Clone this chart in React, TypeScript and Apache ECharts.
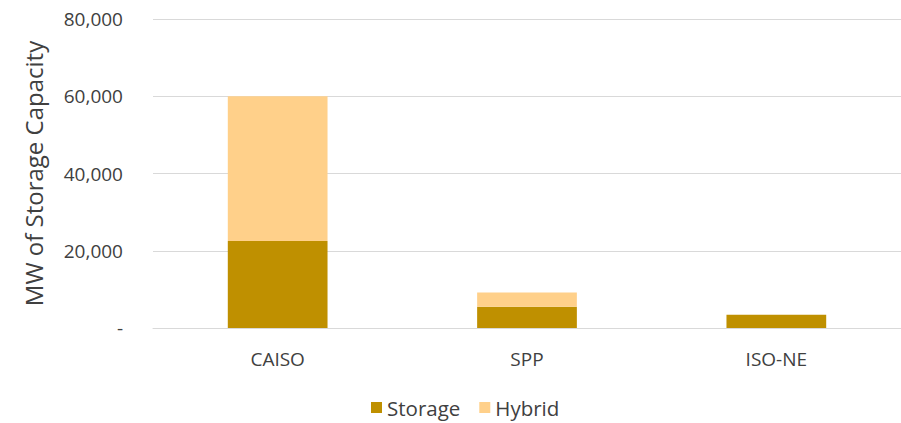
import React, { useEffect, useRef } from "react";
import * as echarts from "echarts";

const categories = ["CAISO", "SPP", "ISO-NE"];
const storageValues = [22500, 5500, 3400];
const hybridValues = [37500, 3700, 0];
const yTicks = [0, 20000, 40000, 60000, 80000];

export default function App() {
  const ref = useRef<HTMLDivElement>(null);
  useEffect(() => {
    const chart = echarts.init(ref.current!, null, { renderer: "svg" });
    const font = "'Open Sans', 'Noto Sans', sans-serif";
    const txt = "#404040";
    chart.setOption({
      animation: false,
      textStyle: { fontFamily: font },
      grid: { left: 153, top: 19, width: 756, height: 309 },
      legend: {
        bottom: 0,
        left: 366,
        itemWidth: 11,
        itemHeight: 11,
        itemGap: 19,
        icon: "rect",
        textStyle: { color: txt, fontSize: 20.5, fontFamily: font },
        data: ["Storage", "Hybrid"],
      },
      xAxis: {
        type: "category",
        data: categories,
        axisLine: { lineStyle: { color: "#D9D9D9" } },
        axisTick: { show: false },
        axisLabel: { color: txt, fontSize: 19, margin: 21 },
      },
      yAxis: {
        type: "value",
        min: yTicks[0],
        max: yTicks[yTicks.length - 1],
        interval: 20000,
        name: "MW of Storage Capacity",
        nameLocation: "middle",
        nameGap: 108,
        nameTextStyle: { color: txt, fontSize: 24 },
        axisLine: { show: false },
        axisTick: { show: false },
        splitLine: { lineStyle: { color: "#D9D9D9" } },
        axisLabel: {
          color: txt,
          fontSize: 19,
          margin: 30,
          formatter: (v: number) => (v === 0 ? "-" : v.toLocaleString("en-US")),
        },
      },
      series: [
        {
          name: "Storage",
          type: "bar",
          stack: "total",
          barWidth: "40%",
          itemStyle: { color: "#BF9000" },
          data: storageValues,
        },
        {
          name: "Hybrid",
          type: "bar",
          stack: "total",
          barWidth: "40%",
          itemStyle: { color: "#FFD08A" },
          data: hybridValues,
        },
      ],
    });
    return () => chart.dispose();
  }, []);
  return (
    <div
      ref={ref}
      style={{ position: "absolute", left: 0, top: 0, width: 901, height: 423, background: "#fff" }}
    />
  );
}
